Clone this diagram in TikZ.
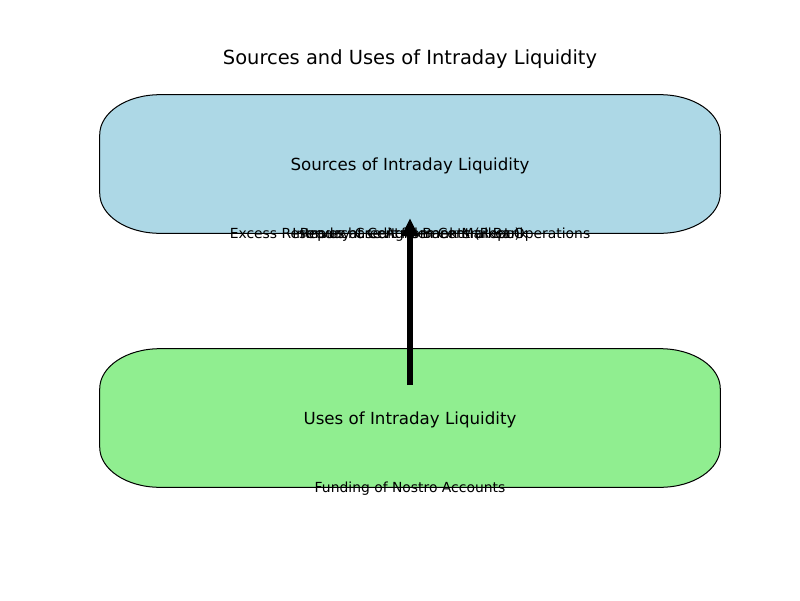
\documentclass[tikz,border=0pt]{standalone}
\usepackage{fontspec}
\setmainfont{DejaVu Sans}
\usetikzlibrary{arrows.meta,backgrounds}
\definecolor{lightblue}{HTML}{ADD8E6}
\definecolor{lightgreen}{HTML}{90EE90}
\tikzset{
    liqbox/.style={minimum width=446.4pt,minimum height=99.4pt,inner sep=0pt,text depth=0pt,
        font=\fontsize{12}{14}\selectfont},
    liqedge/.style={draw=black,line width=0.72pt},
    itemlabel/.style={inner sep=0pt,font=\fontsize{10}{12}\selectfont}
}
\begin{document}
\begin{tikzpicture}[x=0.72pt,y=-0.72pt]
    \useasboundingbox (0,0) rectangle (800,600);

    \node [font=\fontsize{14}{17}\selectfont] (title) at (410,59) {Sources and Uses of Intraday Liquidity};

    \node [liqbox] (sources) at (410,164) {Sources of Intraday Liquidity};
    \node [liqbox] (uses) at (410,418) {Uses of Intraday Liquidity};

    \begin{scope}[on background layer,x=1pt,y=1pt]
        \foreach \b/\c in {sources/lightblue,uses/lightgreen}{
            \draw [liqedge,fill=\c] ([xshift=43.2pt]\b.north west) -- ([xshift=-43.2pt]\b.north east)
                arc [start angle=90,end angle=0,x radius=43.2pt,y radius=28.8pt]
                -- ([yshift=28.8pt]\b.south east)
                arc [start angle=0,end angle=-90,x radius=43.2pt,y radius=28.8pt]
                -- ([xshift=43.2pt]\b.south west)
                arc [start angle=-90,end angle=-180,x radius=43.2pt,y radius=28.8pt]
                -- ([yshift=-28.8pt]\b.north west)
                arc [start angle=180,end angle=90,x radius=43.2pt,y radius=28.8pt] -- cycle;
        }
    \end{scope}

    \node [itemlabel] (src1) at (410,235) {Excess Reserves at Central Bank Market Operations};
    \node [itemlabel] (src2) at (410,235) {Repurchase Agreements (Repo)};
    \node [itemlabel] (src3) at (410,235) {Intraday Credit from Central Bank};
    \node [itemlabel] (use1) at (410,489) {Funding of Nostro Accounts};

    \coordinate (tail) at (410,385);
    \coordinate (head) at (410,218);
    \draw [line width=4.3pt,-{Triangle[length=13pt,width=11.5pt]}] (tail) -- (head);
\end{tikzpicture}
\end{document}
